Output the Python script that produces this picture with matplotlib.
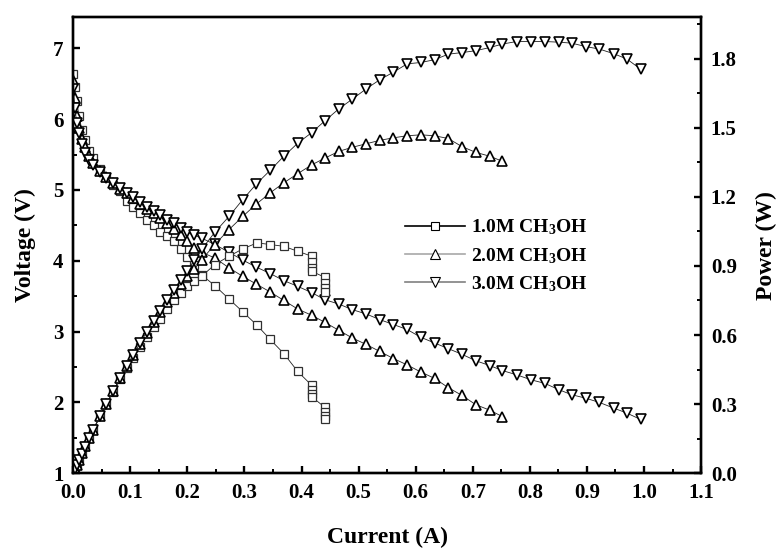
import matplotlib
matplotlib.use("Agg")
import matplotlib.pyplot as plt
from matplotlib.lines import Line2D
from matplotlib.ticker import MultipleLocator, FormatStrFormatter

plt.rcParams['font.family'] = ['Liberation Serif', 'DejaVu Serif']
plt.rcParams['font.weight'] = 'bold'
plt.rcParams['mathtext.fontset'] = 'custom'
plt.rcParams['mathtext.rm'] = 'Liberation Serif:bold'
plt.rcParams['mathtext.it'] = 'Liberation Serif:bold'
plt.rcParams['mathtext.bf'] = 'Liberation Serif:bold'

# ---- data ----
# 1.0M CH3OH
cur_1 = [0.000, 0.003, 0.006, 0.010, 0.015, 0.021, 0.028, 0.035, 0.047, 0.058,
         0.070, 0.082, 0.094, 0.105, 0.117, 0.129, 0.141, 0.152, 0.164, 0.176,
         0.188, 0.200, 0.212, 0.225, 0.248, 0.273, 0.297, 0.322, 0.345, 0.369,
         0.393, 0.418, 0.418, 0.418, 0.418, 0.441, 0.441, 0.441, 0.441]
volt_1 = [6.64, 6.45, 6.25, 6.05, 5.85, 5.70, 5.55, 5.45, 5.30, 5.18,
          5.07, 4.98, 4.85, 4.76, 4.68, 4.58, 4.50, 4.41, 4.35, 4.28,
          4.16, 4.06, 3.94, 3.80, 3.65, 3.46, 3.28, 3.09, 2.89, 2.69,
          2.44, 2.24, 2.18, 2.12, 2.08, 1.93, 1.87, 1.81, 1.76]
pow_1 = [0.000, 0.019, 0.038, 0.061, 0.088, 0.120, 0.155, 0.191, 0.249, 0.300,
         0.355, 0.408, 0.456, 0.500, 0.548, 0.591, 0.635, 0.670, 0.713, 0.753,
         0.782, 0.812, 0.835, 0.855, 0.906, 0.942, 0.974, 1.000, 0.993, 0.985,
         0.964, 0.942, 0.915, 0.893, 0.877, 0.850, 0.825, 0.805, 0.785]

# 2.0M CH3OH
cur_2 = [0.000, 0.003, 0.006, 0.010, 0.015, 0.021, 0.028, 0.035, 0.047, 0.058,
         0.070, 0.082, 0.094, 0.105, 0.117, 0.129, 0.141, 0.152, 0.164, 0.176,
         0.188, 0.200, 0.212, 0.225, 0.248, 0.273, 0.297, 0.321, 0.345, 0.369,
         0.393, 0.418, 0.441, 0.465, 0.489, 0.513, 0.537, 0.561, 0.585, 0.609,
         0.633, 0.657, 0.681, 0.705, 0.730, 0.752]
volt_2 = [6.55, 6.30, 6.05, 5.88, 5.72, 5.60, 5.48, 5.38, 5.27, 5.18,
          5.10, 5.02, 4.95, 4.88, 4.80, 4.73, 4.67, 4.60, 4.53, 4.45,
          4.37, 4.28, 4.18, 4.12, 4.04, 3.90, 3.78, 3.67, 3.56, 3.44,
          3.32, 3.23, 3.13, 3.02, 2.91, 2.82, 2.72, 2.62, 2.53, 2.43,
          2.34, 2.21, 2.10, 1.97, 1.89, 1.80]
pow_2 = [0.000, 0.019, 0.036, 0.059, 0.086, 0.118, 0.153, 0.188, 0.248, 0.300,
         0.357, 0.412, 0.465, 0.512, 0.562, 0.610, 0.658, 0.699, 0.743, 0.783,
         0.822, 0.856, 0.886, 0.927, 0.993, 1.058, 1.115, 1.169, 1.217, 1.261,
         1.300, 1.339, 1.368, 1.397, 1.415, 1.430, 1.445, 1.456, 1.465, 1.469,
         1.465, 1.453, 1.418, 1.393, 1.376, 1.354]

# 3.0M CH3OH
cur_3 = [0.000, 0.003, 0.006, 0.010, 0.015, 0.021, 0.028, 0.035, 0.047, 0.058,
         0.070, 0.082, 0.094, 0.105, 0.117, 0.129, 0.141, 0.152, 0.164, 0.176,
         0.188, 0.200, 0.212, 0.225, 0.248, 0.273, 0.297, 0.321, 0.345, 0.369,
         0.393, 0.418, 0.441, 0.465, 0.489, 0.513, 0.537, 0.561, 0.585, 0.609,
         0.633, 0.657, 0.681, 0.705, 0.730, 0.752, 0.777, 0.802, 0.826, 0.851,
         0.873, 0.898, 0.922, 0.947, 0.970, 0.994]
volt_3 = [6.42, 6.15, 5.95, 5.80, 5.65, 5.52, 5.42, 5.35, 5.25, 5.17,
          5.10, 5.03, 4.96, 4.90, 4.83, 4.76, 4.70, 4.64, 4.58, 4.53,
          4.46, 4.40, 4.36, 4.32, 4.23, 4.12, 4.01, 3.91, 3.82, 3.72,
          3.64, 3.55, 3.45, 3.39, 3.31, 3.25, 3.17, 3.10, 3.03, 2.92,
          2.84, 2.76, 2.68, 2.59, 2.52, 2.45, 2.39, 2.32, 2.27, 2.18,
          2.11, 2.06, 2.00, 1.92, 1.85, 1.76]
pow_3 = [0.000, 0.020, 0.036, 0.058, 0.085, 0.116, 0.152, 0.187, 0.247, 0.300,
         0.357, 0.412, 0.466, 0.515, 0.565, 0.614, 0.663, 0.705, 0.751, 0.797,
         0.838, 0.880, 0.925, 0.972, 1.046, 1.115, 1.188, 1.256, 1.315, 1.376,
         1.432, 1.479, 1.530, 1.581, 1.624, 1.668, 1.708, 1.741, 1.777, 1.783,
         1.795, 1.819, 1.826, 1.834, 1.848, 1.863, 1.874, 1.874, 1.874, 1.871,
         1.867, 1.852, 1.841, 1.821, 1.798, 1.754]

labels = ['1.0M CH$_3$OH', '2.0M CH$_3$OH', '3.0M CH$_3$OH']
markers = ['s', '^', 'v']
legend_colors = ['black', '#a8a8a8', '#808080']


def style_axis(ax):
    for sp in ax.spines.values():
        sp.set_linewidth(1.7)
    ax.tick_params(which='major', direction='in', length=5, width=1.7,
                   labelsize=15, pad=7)
    ax.tick_params(which='minor', direction='in', length=3, width=1.4)


fig = plt.figure(figsize=(7.79, 5.51), dpi=100)
ax = fig.add_axes([0.094, 0.141, 0.806, 0.828])
ax2 = ax.twinx()

series = [(cur_1, volt_1, pow_1), (cur_2, volt_2, pow_2), (cur_3, volt_3, pow_3)]
for (c, v, p), m in zip(series, markers):
    ms = 5.5 if m == 's' else 6.8
    mew = 0.9 if m == 's' else 1.2
    mec = '#303030' if m == 's' else 'black'
    ax.plot(c, v, color='#202020', lw=0.6, marker=m, ms=ms, mfc='white',
            mec=mec, mew=mew)
    ax2.plot(c, p, color='#202020', lw=0.6, marker=m, ms=ms, mfc='white',
             mec=mec, mew=mew)

ax.set_xlim(0, 1.1)
ax.set_ylim(1, 7.44)
ax2.set_ylim(0, 1.98)

ax.xaxis.set_major_locator(MultipleLocator(0.1))
ax.xaxis.set_minor_locator(MultipleLocator(0.05))
ax.xaxis.set_major_formatter(FormatStrFormatter('%.1f'))
ax.yaxis.set_major_locator(MultipleLocator(1))
ax.yaxis.set_minor_locator(MultipleLocator(0.5))
ax2.yaxis.set_major_locator(MultipleLocator(0.3))
ax2.yaxis.set_minor_locator(MultipleLocator(0.15))
ax2.yaxis.set_major_formatter(FormatStrFormatter('%.1f'))

style_axis(ax)
style_axis(ax2)

ax.set_xlabel('Current (A)', fontsize=17, fontweight='bold', labelpad=17)
ax.set_ylabel('Voltage (V)', fontsize=17, fontweight='bold', labelpad=12)
ax2.set_ylabel('Power (W)', fontsize=17, fontweight='bold', labelpad=14)

handles = [Line2D([], [], color=col, lw=1.2, marker=m, ms=(5.5 if m == 's' else 6.5),
                  mfc='white', mec='black', mew=0.8)
           for col, m in zip(legend_colors, markers)]
ax2.legend(handles, labels, loc='upper left', bbox_to_anchor=(0.516, 0.578),
           frameon=False, fontsize=14, handlelength=3.1, handletextpad=0.3,
           labelspacing=0.45, borderaxespad=0)

fig.savefig('out.png', dpi=100)
